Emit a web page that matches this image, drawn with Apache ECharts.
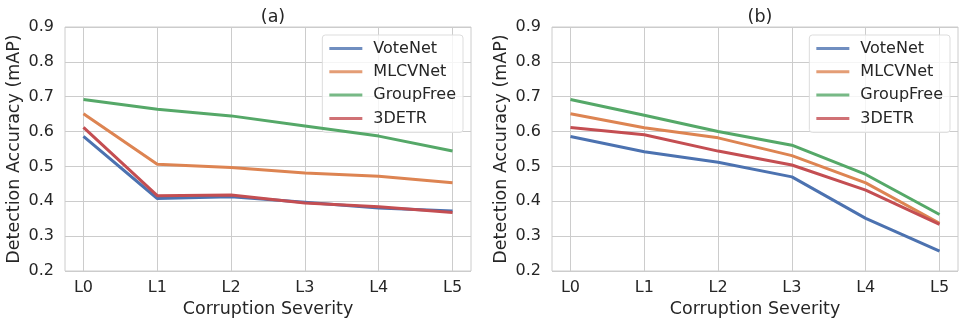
<!DOCTYPE html>
<html>
<head>
<meta charset="utf-8">
<script src="https://cdn.jsdelivr.net/npm/echarts@6/dist/echarts.min.js"></script>
<style>
html,body{margin:0;padding:0;background:#fff;}
#c{width:964px;height:325px;}
</style>
</head>
<body>
<div id="c"></div>
<script>
const categories = ['L0','L1','L2','L3','L4','L5'];
const seriesNames = ['VoteNet','MLCVNet','GroupFree','3DETR'];
const colors = ['#4C72B0','#DD8452','#55A868','#C44E52'];
const yTicks = [0.2,0.3,0.4,0.5,0.6,0.7,0.8,0.9];
const titles = ['(a)','(b)'];

// panel (a)
const a_VoteNet   = [0.586,0.408,0.413,0.397,0.381,0.372];
const a_MLCVNet   = [0.651,0.506,0.497,0.481,0.472,0.453];
const a_GroupFree = [0.692,0.664,0.645,0.616,0.587,0.544];
const a_3DETR     = [0.612,0.416,0.418,0.395,0.384,0.368];
// panel (b)
const b_VoteNet   = [0.586,0.542,0.512,0.470,0.351,0.257];
const b_MLCVNet   = [0.651,0.611,0.582,0.531,0.453,0.337];
const b_GroupFree = [0.692,0.647,0.600,0.561,0.477,0.362];
const b_3DETR     = [0.612,0.591,0.544,0.504,0.432,0.334];

const panels = [
  [a_VoteNet,a_MLCVNet,a_GroupFree,a_3DETR],
  [b_VoteNet,b_MLCVNet,b_GroupFree,b_3DETR]
];

const FONT = 'DejaVu Sans';
const TXT = '#262626';
const GRIDC = '#cccccc';
const TICK_FS = 16;
const LABEL_FS = 17.5;

const grids = [
  {left:65, right:493, top:27, bottom:54},
  {left:552, right:6, top:27, bottom:54}
];

const option = {
  animation:false,
  backgroundColor:'#fff',
  textStyle:{fontFamily:FONT,color:TXT},
  title: titles.map((t,i)=>({
    text:t,
    left: grids[i].left + (964-grids[i].left-grids[i].right)/2,
    top:3,
    textAlign:'center',
    textStyle:{fontFamily:FONT,fontSize:LABEL_FS,fontWeight:'normal',color:TXT}
  })),
  grid: grids.map(g=>Object.assign({show:true,borderColor:GRIDC,borderWidth:1,backgroundColor:'#fff'},g)),
  legend: [0,1].map(i=>({
    data:seriesNames.map(n=>({name:n})),
    orient:'vertical',
    right: i===0 ? 501 : 14,
    top:35,
    itemWidth:33,
    itemHeight:3,
    itemGap:7.3,
    icon:'rect',
    padding:[5.5,7,6,7],
    backgroundColor:'rgba(255,255,255,0.8)',
    borderColor:'#dddddd',
    borderWidth:1,
    borderRadius:3,
    itemStyle:{opacity:0.8},
    textStyle:{fontFamily:FONT,fontSize:TICK_FS,color:TXT,lineHeight:16,padding:[0,0,0,6]}
  })),
  xAxis: [0,1].map(i=>({
    type:'value',
    gridIndex:i,
    min:-0.25,
    max:5.25,
    name:'Corruption Severity',
    nameLocation:'middle',
    nameGap:26,
    nameTextStyle:{fontFamily:FONT,fontSize:LABEL_FS,color:TXT},
    axisLine:{show:false},
    axisTick:{show:false,customValues:categories.map((c,k)=>k)},
    axisLabel:{customValues:categories.map((c,k)=>k),formatter:v=>categories[Math.round(v)],
      fontFamily:FONT,fontSize:TICK_FS,color:TXT,margin:9},
    splitLine:{show:true,lineStyle:{color:GRIDC,width:1}}
  })),
  yAxis: [0,1].map(i=>({
    type:'value',
    gridIndex:i,
    min:yTicks[0],
    max:yTicks[yTicks.length-1],
    interval:0.1,
    name:'Detection Accuracy (mAP)',
    nameLocation:'middle',
    nameGap:42,
    nameTextStyle:{fontFamily:FONT,fontSize:LABEL_FS,color:TXT},
    axisLine:{show:false},
    axisTick:{show:false},
    axisLabel:{formatter:v=>v.toFixed(1),fontFamily:FONT,fontSize:TICK_FS,color:TXT,margin:11},
    splitLine:{show:true,lineStyle:{color:GRIDC,width:1}}
  })),
  series: []
};

panels.forEach((vals,p)=>{
  vals.forEach((arr,k)=>{
    option.series.push({
      type:'line',
      name:seriesNames[k],
      xAxisIndex:p,
      yAxisIndex:p,
      data:arr.map((v,j)=>[j,v]),
      showSymbol:false,
      symbol:'none',
      lineStyle:{color:colors[k],width:3},
      itemStyle:{color:colors[k]},
      z:2+k
    });
  });
});

const chart = echarts.init(document.getElementById('c'),null,{renderer:'canvas'});
chart.setOption(option);
</script>
</body>
</html>
